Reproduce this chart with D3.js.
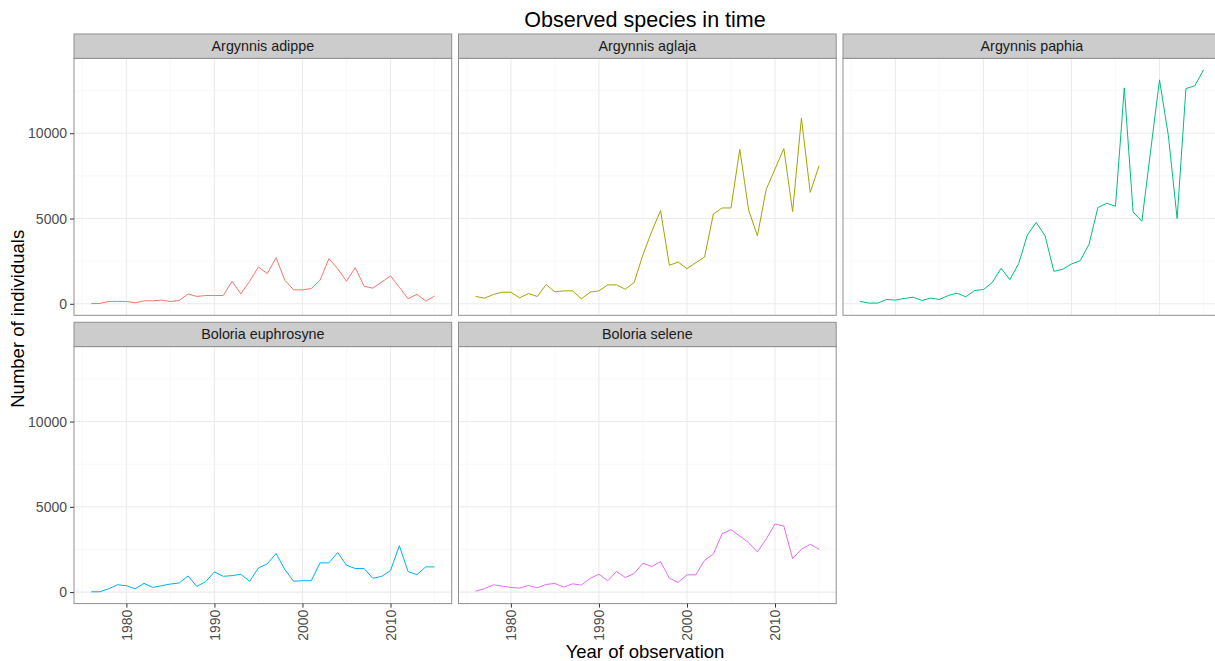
<!DOCTYPE html>
<html>
<head>
<meta charset="utf-8">
<script src="https://cdn.jsdelivr.net/npm/d3@7"></script>
<style>
  body { margin: 0; background: #fff; overflow: hidden; }
  svg { font-family: "Liberation Sans", Arial, sans-serif; }
</style>
</head>
<body>
<div id="chart"></div>
<script>
// years of observation, one value per year for every species
var years = d3.range(1976, 2016);

var species = ['Argynnis adippe', 'Argynnis aglaja', 'Argynnis paphia',
               'Boloria euphrosyne', 'Boloria selene'];

var adippe = [10, 20, 136, 136, 136, 60, 175, 175, 214, 136,
              195, 580, 430, 486, 486, 486, 1320, 580, 1320, 2160,
              1770, 2700, 1380, 817, 817, 895, 1380, 2645, 2060, 1320,
              2120, 1030, 914, 1280, 1630, 970, 290, 560, 155, 450];

var aglaja = [428, 330, 545, 680, 680, 350, 603, 428, 1128, 700,
              758, 758, 292, 680, 758, 1108, 1108, 856, 1245, 2880,
              4240, 5465, 2256, 2450, 2062, 2410, 2742, 5270, 5620, 5620,
              9064, 5504, 3987, 6710, 7900, 9100, 5407, 10890, 6535, 8090];

var paphia = [136, 40, 40, 253, 214, 311, 389, 195, 330, 253,
              486, 622, 408, 778, 836, 1245, 2080, 1420, 2353, 4045,
              4765, 3987, 1906, 2023, 2334, 2528, 3500, 5640, 5893, 5718,
              12660, 5387, 4843, 9005, 13130, 9880, 4998, 12620, 12780, 13710];

var euphrosyne = [15, 20, 197, 433, 374, 197, 512, 276, 374, 473,
                  532, 945, 335, 610, 1182, 926, 965, 1044, 630, 1418,
                  1655, 2265, 1320, 630, 670, 670, 1714, 1714, 2325, 1576,
                  1380, 1380, 808, 926, 1260, 2720, 1200, 1024, 1478, 1478];

var selene = [58, 195, 428, 350, 272, 234, 390, 253, 448, 506,
              292, 487, 409, 798, 1051, 662, 1207, 856, 1090, 1693,
              1498, 1790, 817, 564, 1012, 1012, 1868, 2238, 3425, 3660,
              3290, 2900, 2355, 3114, 3990, 3873, 1965, 2510, 2802, 2510];

var xTicks = [1980, 1990, 2000, 2010];
var xMinor = [1975, 1985, 1995, 2005, 2015];
var yTicks = [0, 5000, 10000];
var yMinor = [2500, 7500, 12500];

var seriesValues = [adippe, aglaja, paphia, euphrosyne, selene];
var colors = ['#F8766D', '#A3A500', '#00BF7D', '#00B0F6', '#E76BF3'];

var width = 1215, height = 661;
var left = 74, gap = 6.8, panelW = 377.7;
var stripH = 24.3, plotH = 257;
var rowTop = [34, 322.3];

var svg = d3.select('#chart').append('svg')
    .attr('width', width)
    .attr('height', height);

// shared scales, ggplot style 5% expansion
var xExt = d3.extent(years);
var xPad = (xExt[1] - xExt[0]) * 0.05;
var x = d3.scaleLinear()
    .domain([xExt[0] - xPad, xExt[1] + xPad])
    .range([0, panelW]);

var yExt = [d3.min(seriesValues, function(s) { return d3.min(s); }),
            d3.max(seriesValues, function(s) { return d3.max(s); })];
var yPad = (yExt[1] - yExt[0]) * 0.05;
var y = d3.scaleLinear()
    .domain([yExt[0] - yPad, yExt[1] + yPad])
    .range([plotH, 0]);

var line = d3.line()
    .x(function(d) { return x(d[0]); })
    .y(function(d) { return y(d[1]); });

var tickFont = 14;

species.forEach(function(name, i) {
  var col = i % 3, row = Math.floor(i / 3);
  var px = left + col * (panelW + gap);
  var py = rowTop[row] + stripH;

  var g = svg.append('g').attr('transform', 'translate(' + px + ',' + py + ')');

  // strip
  svg.append('rect')
      .attr('x', px).attr('y', rowTop[row])
      .attr('width', panelW).attr('height', stripH)
      .attr('fill', '#cccccc')
      .attr('stroke', '#8f8f8f').attr('stroke-width', 1);
  svg.append('text')
      .attr('x', px + panelW / 2).attr('y', rowTop[row] + stripH / 2)
      .attr('dy', '0.35em')
      .attr('text-anchor', 'middle')
      .attr('font-size', 14.3)
      .attr('fill', '#1a1a1a')
      .text(name);

  // grid
  g.selectAll('.minx').data(xMinor).enter().append('line')
      .attr('x1', x).attr('x2', x).attr('y1', 0).attr('y2', plotH)
      .attr('stroke', '#f3f3f3').attr('stroke-width', 0.6);
  g.selectAll('.miny').data(yMinor).enter().append('line')
      .attr('x1', 0).attr('x2', panelW).attr('y1', y).attr('y2', y)
      .attr('stroke', '#f3f3f3').attr('stroke-width', 0.6);
  g.selectAll('.majx').data(xTicks).enter().append('line')
      .attr('x1', x).attr('x2', x).attr('y1', 0).attr('y2', plotH)
      .attr('stroke', '#ebebeb').attr('stroke-width', 1.1);
  g.selectAll('.majy').data(yTicks).enter().append('line')
      .attr('x1', 0).attr('x2', panelW).attr('y1', y).attr('y2', y)
      .attr('stroke', '#ebebeb').attr('stroke-width', 1.1);

  // the series
  g.append('path')
      .datum(d3.zip(years, seriesValues[i]))
      .attr('d', line)
      .attr('fill', 'none')
      .attr('stroke', colors[i])
      .attr('stroke-width', 1);

  // panel border
  g.append('rect')
      .attr('width', panelW).attr('height', plotH)
      .attr('fill', 'none')
      .attr('stroke', '#8f8f8f').attr('stroke-width', 1);

  // y axis on first column
  if (col === 0) {
    var ya = g.append('g').call(d3.axisLeft(y).tickValues(yTicks)
        .tickFormat(d3.format('d')).tickSize(4).tickPadding(3));
    ya.select('.domain').remove();
    ya.selectAll('line').attr('stroke', '#333');
    ya.selectAll('text').attr('font-size', tickFont).attr('fill', '#4d4d4d')
        .attr('font-family', '"Liberation Sans", Arial, sans-serif');
  }

  // x axis on bottom row only
  if (row === 1) {
    var xa = g.append('g').attr('transform', 'translate(0,' + plotH + ')')
        .call(d3.axisBottom(x).tickValues(xTicks).tickFormat(d3.format('d')).tickSize(4));
    xa.select('.domain').remove();
    xa.selectAll('line').attr('stroke', '#333');
    xa.selectAll('text')
        .attr('font-size', tickFont).attr('fill', '#4d4d4d')
        .attr('font-family', '"Liberation Sans", Arial, sans-serif')
        .attr('transform', 'rotate(-90)')
        .attr('text-anchor', 'end')
        .attr('x', -6).attr('y', 0).attr('dy', '0.35em');
  }
});

// titles
svg.append('text')
    .attr('x', 645).attr('y', 27)
    .attr('text-anchor', 'middle')
    .attr('font-size', 21.5)
    .attr('fill', '#000')
    .text('Observed species in time');

svg.append('text')
    .attr('x', 645).attr('y', 658)
    .attr('text-anchor', 'middle')
    .attr('font-size', 18.5)
    .attr('fill', '#000')
    .text('Year of observation');

svg.append('text')
    .attr('transform', 'translate(24,' + (rowTop[0] + rowTop[1] + stripH + plotH) / 2 + ') rotate(-90)')
    .attr('text-anchor', 'middle')
    .attr('font-size', 18.5)
    .attr('fill', '#000')
    .text('Number of individuals');
</script>
</body>
</html>
